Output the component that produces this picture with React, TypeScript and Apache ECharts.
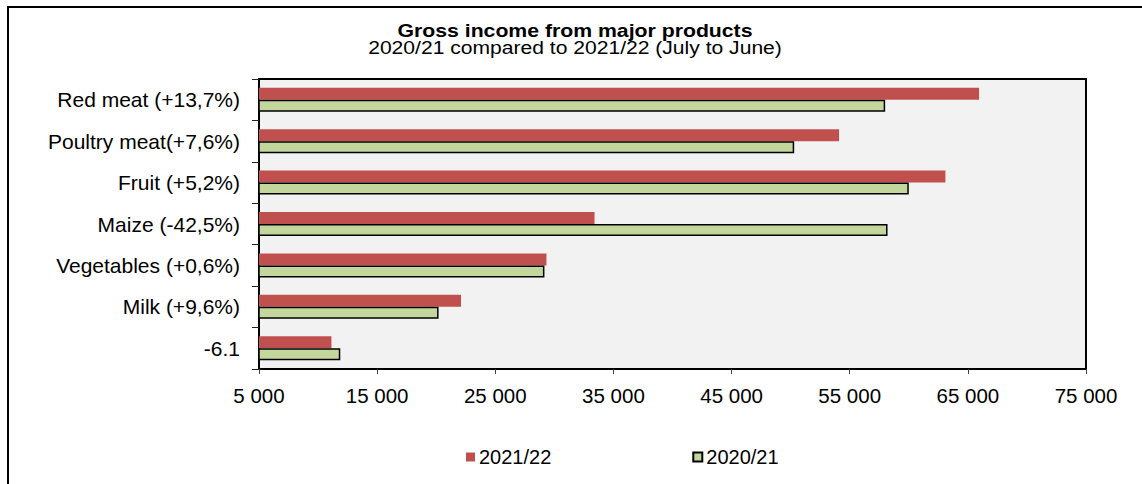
import React, { useEffect, useRef } from "react";
import * as echarts from "echarts";

const categories = [
  "Red meat (+13,7%)",
  "Poultry meat(+7,6%)",
  "Fruit (+5,2%)",
  "Maize (-42,5%)",
  "Vegetables (+0,6%)",
  "Milk (+9,6%)",
  "-6.1",
];
const income2122 = [65950, 54100, 63100, 33400, 29330, 22100, 11130];
const income2021 = [58000, 50300, 60000, 58200, 29160, 20200, 11880];
const xTicks = [5000, 15000, 25000, 35000, 45000, 55000, 65000, 75000];

const FONT = "'Liberation Sans', Arial, sans-serif";

export default function App() {
  const ref = useRef<HTMLDivElement>(null);
  useEffect(() => {
    if (!ref.current) return;
    const chart = echarts.init(ref.current, null, { renderer: "svg" });
    chart.setOption({
      animation: false,
      backgroundColor: "#ffffff",
      textStyle: { fontFamily: FONT },
      graphic: [
        {
          type: "rect",
          shape: { x: 8, y: 7, width: 2000, height: 1000 },
          style: { fill: "none", stroke: "#000", lineWidth: 2 },
          silent: true,
        },
        {
          type: "text",
          x: 575,
          y: 31,
          scaleX: 1.18,
          style: {
            text: "Gross income from major products",
            fontFamily: FONT,
            fontWeight: "bold",
            fontSize: 18,
            fill: "#000",
            align: "center",
            verticalAlign: "middle",
          },
        },
        {
          type: "text",
          x: 575,
          y: 47.5,
          scaleX: 1.14,
          style: {
            text: "2020/21 compared to 2021/22 (July to June)",
            fontFamily: FONT,
            fontSize: 18.5,
            fill: "#000",
            align: "center",
            verticalAlign: "middle",
          },
        },
      ],
      legend: {
        left: 466,
        top: 447,
        padding: 0,
        itemWidth: 9,
        itemHeight: 9,
        itemGap: 141,
        icon: "rect",
        data: ["2021/22", "2020/21"],
        textStyle: { fontFamily: FONT, fontSize: 20, color: "#000", padding: [0, 0, 0, -1] },
      },
      grid: {
        left: 259,
        right: 56,
        top: 79,
        bottom: 115,
        show: true,
        backgroundColor: "#f2f2f2",
        borderColor: "#000",
        borderWidth: 2,
      },
      xAxis: {
        type: "value",
        min: 5000,
        max: 75000,
        axisLine: { show: true, lineStyle: { color: "#000", width: 2 } },
        axisTick: {
          show: true,
          length: 5,
          customValues: xTicks,
          lineStyle: { color: "#444", width: 1 },
        },
        splitLine: { show: false },
        axisLabel: {
          customValues: xTicks,
          margin: 16,
          fontFamily: FONT,
          fontSize: 20.5,
          color: "#000",
          formatter: (v: number) => String(v).replace(/\B(?=(\d{3})+(?!\d))/g, " "),
        },
      },
      yAxis: {
        type: "category",
        inverse: true,
        data: categories,
        axisLine: { show: true, lineStyle: { color: "#000", width: 2 } },
        axisTick: { show: true, length: 7, lineStyle: { color: "#222", width: 1 } },
        axisLabel: { margin: 19, fontFamily: FONT, fontSize: 21, color: "#000" },
      },
      series: [
        {
          name: "2021/22",
          type: "bar",
          data: income2122,
          barWidth: 12,
          barGap: "0%",
          itemStyle: { color: "#c0504d" },
        },
        {
          name: "2020/21",
          type: "bar",
          data: income2021,
          barWidth: 12,
          barGap: "0%",
          itemStyle: { color: "#c3d69b", borderColor: "#000", borderWidth: 1.5 },
        },
      ],
    });
    return () => chart.dispose();
  }, []);
  return (
    <div
      ref={ref}
      style={{ position: "fixed", left: 0, top: 0, width: 1142, height: 484 }}
    />
  );
}
